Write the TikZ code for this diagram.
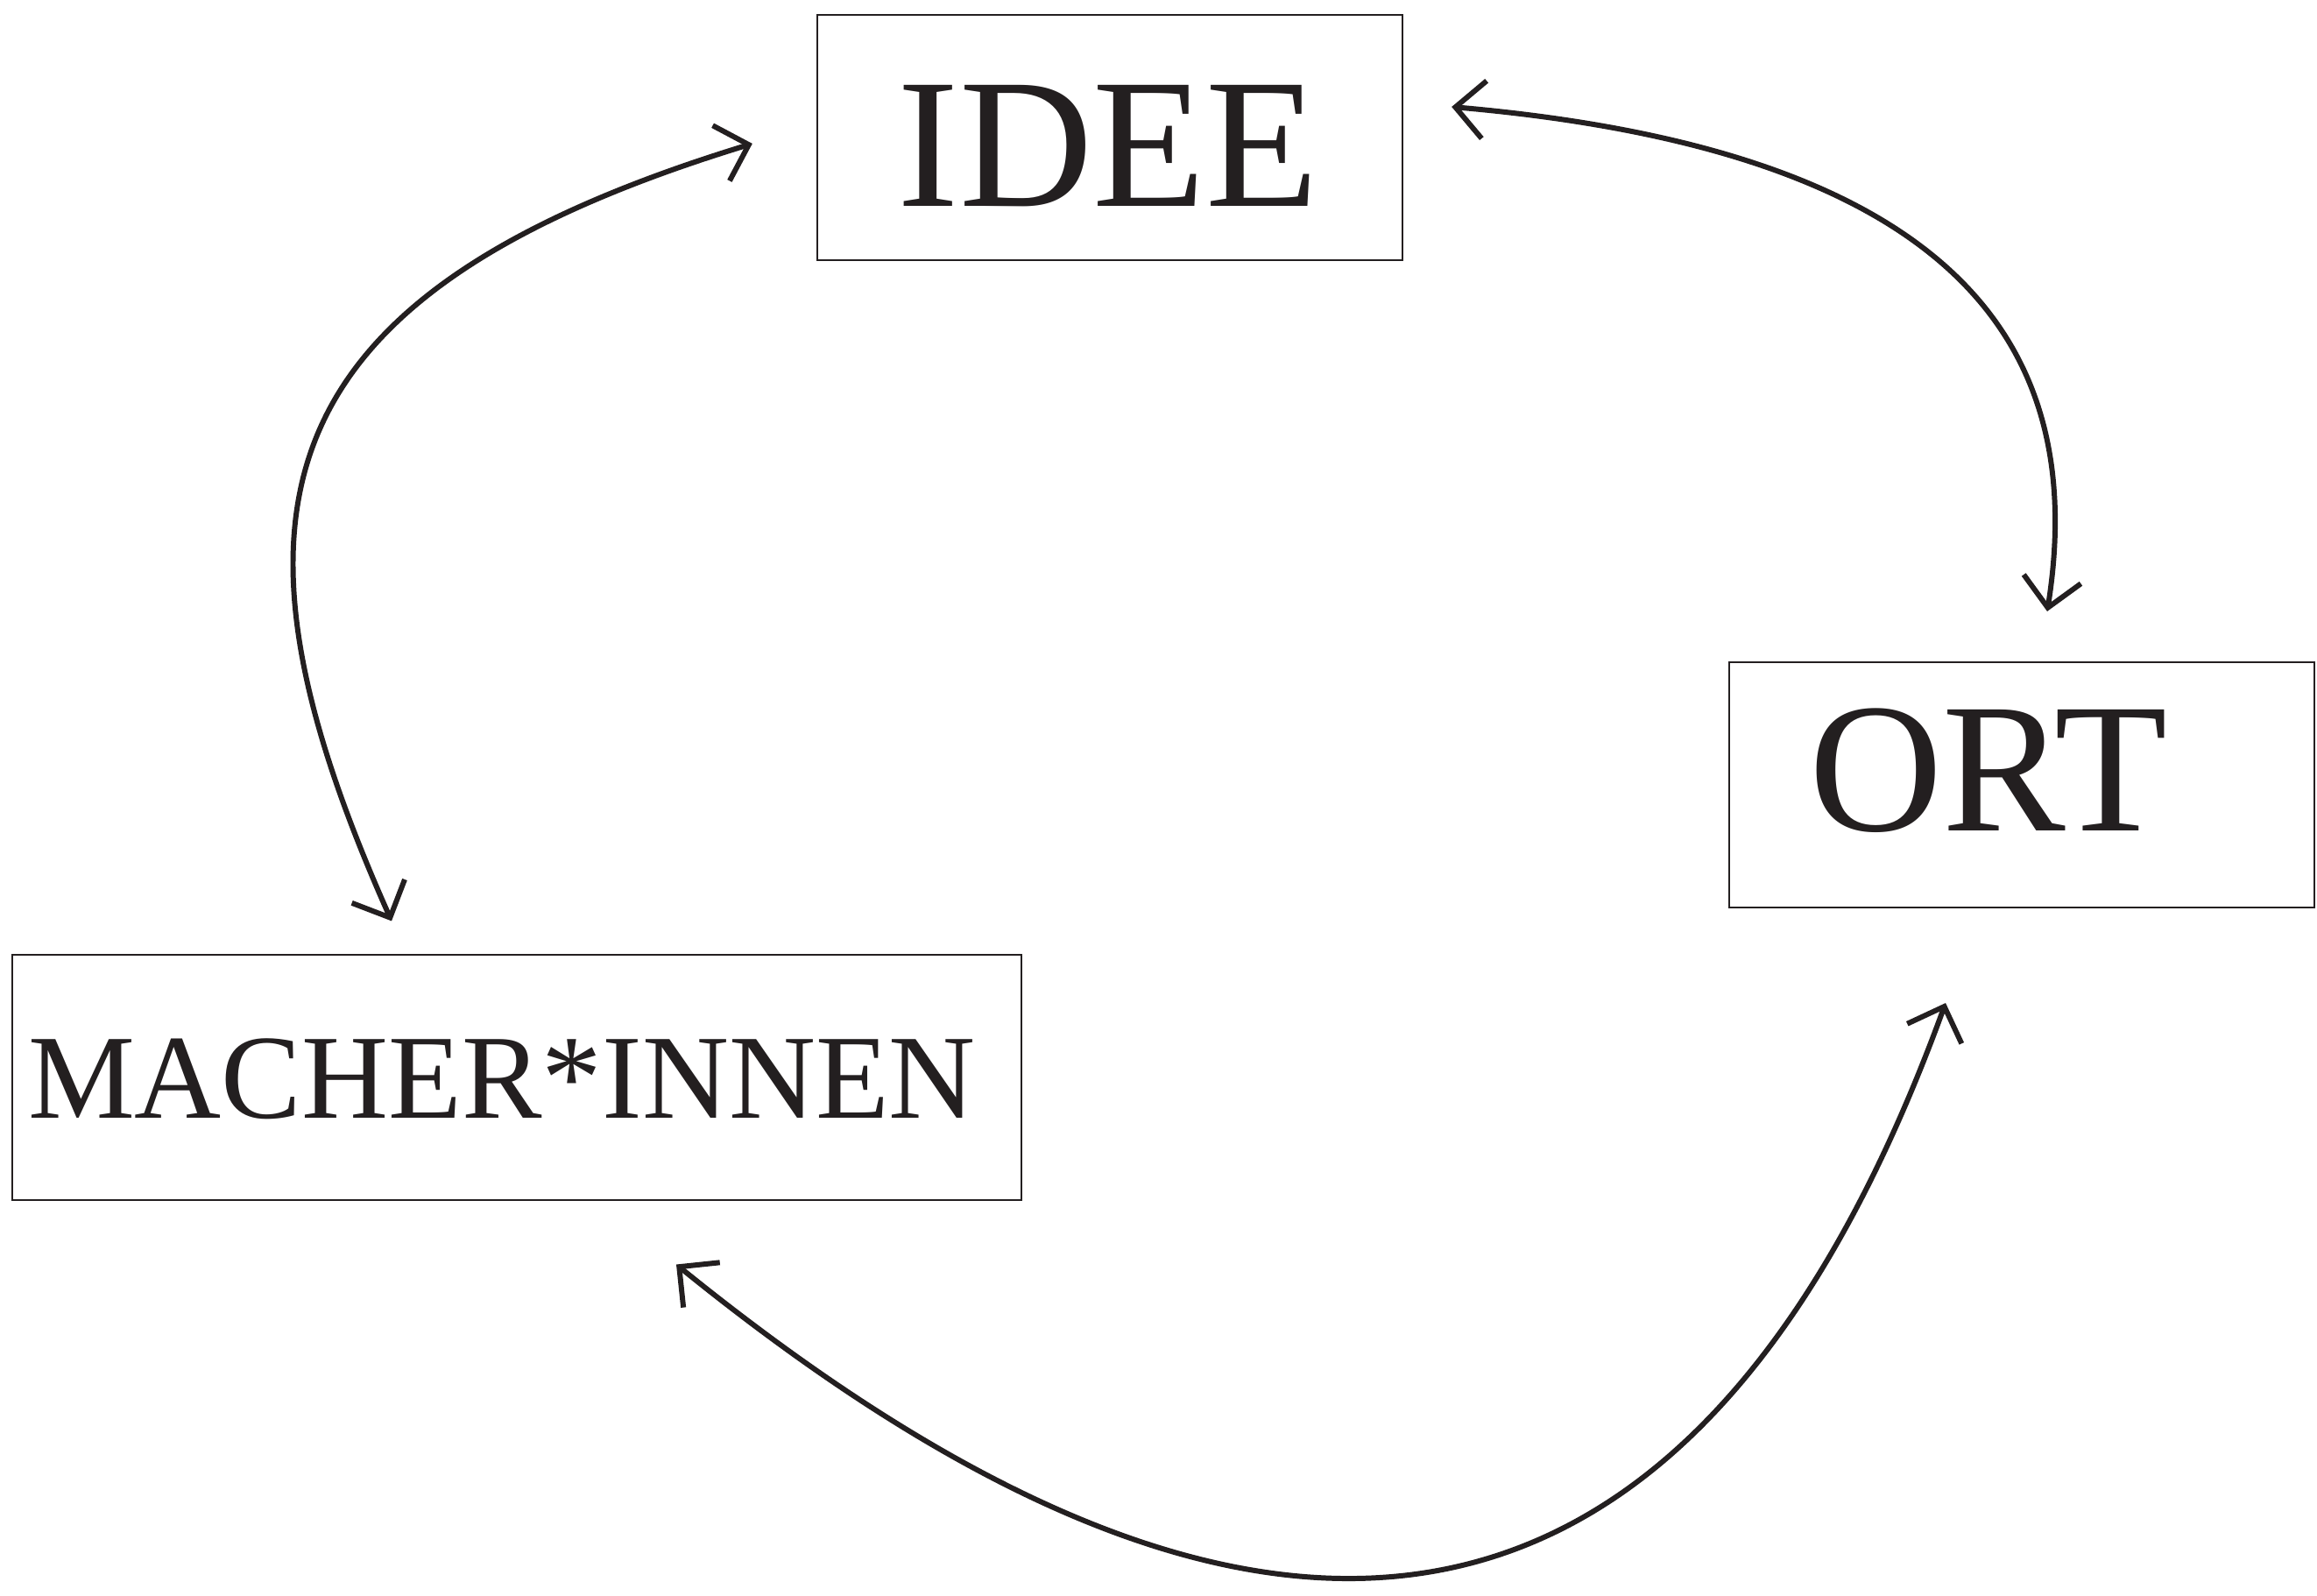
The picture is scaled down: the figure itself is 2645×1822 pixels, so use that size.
\documentclass[tikz,border=0pt]{standalone}
\usepackage{fontspec}
\setmainfont{Liberation Serif}
\usetikzlibrary{arrows.meta}
\definecolor{ink}{HTML}{231F20}
\tikzset{
  box/.style={draw=ink, line width=0.55pt, rectangle, inner sep=0pt},
  word/.style={inner sep=0pt, text=ink},
  link/.style={draw=ink, line width=1.7pt, >={Straight Barb[length=3.3mm,width=6.6mm,sharp]}, <->}
}

\begin{document}
\begin{tikzpicture}[x=0.01cm,y=0.01cm]
	\useasboundingbox (0,0) rectangle (2645,1822);

	% the three boxes
	\node[box, minimum width=6.68cm, minimum height=2.8cm] (idee) at (1267,1665) {};
	\node[box, minimum width=6.68cm, minimum height=2.8cm] (ort) at (2308,926) {};
	\node[box, minimum width=11.52cm, minimum height=2.79cm] (macher) at (590,592) {};

	\node[word, font=\fontsize{60}{60}\selectfont] (ideeText) at ([shift={(-2,-10)}]idee.center) {IDEE};
	\node[word, font=\fontsize{60}{60}\selectfont] (ortText) at ([shift={(-38,16)}]ort.center) {ORT};
	\node[word, font=\fontsize{39}{39}\selectfont] (macherText) at ([shift={(-17,-2)}]macher.center) {MACHER*INNEN};

	% free ends of the arrows
	\coordinate (ideeW) at ([shift={(-73,-7)}]idee.west);
	\coordinate (ideeE) at ([shift={(55,35)}]idee.east);
	\coordinate (ortN) at ([shift={(29,57)}]ort.north);
	\coordinate (ortS) at ([shift={(-87,-108)}]ort.south);
	\coordinate (macherN) at ([shift={(-143,38)}]macher.north);
	\coordinate (macherS) at ([shift={(182,-73)}]macher.south);

	\draw[link] (ideeW) to[out=197, in=114, out distance=6cm, in distance=5cm] (macherN);
	\draw[link] (ideeE) to[out=-5, in=81, out distance=5.6cm, in distance=3.2cm] (ortN);
	\draw[link] (ortS) to[out=250, in=-39, out distance=10cm, in distance=6.5cm] (macherS);
\end{tikzpicture}
\end{document}
